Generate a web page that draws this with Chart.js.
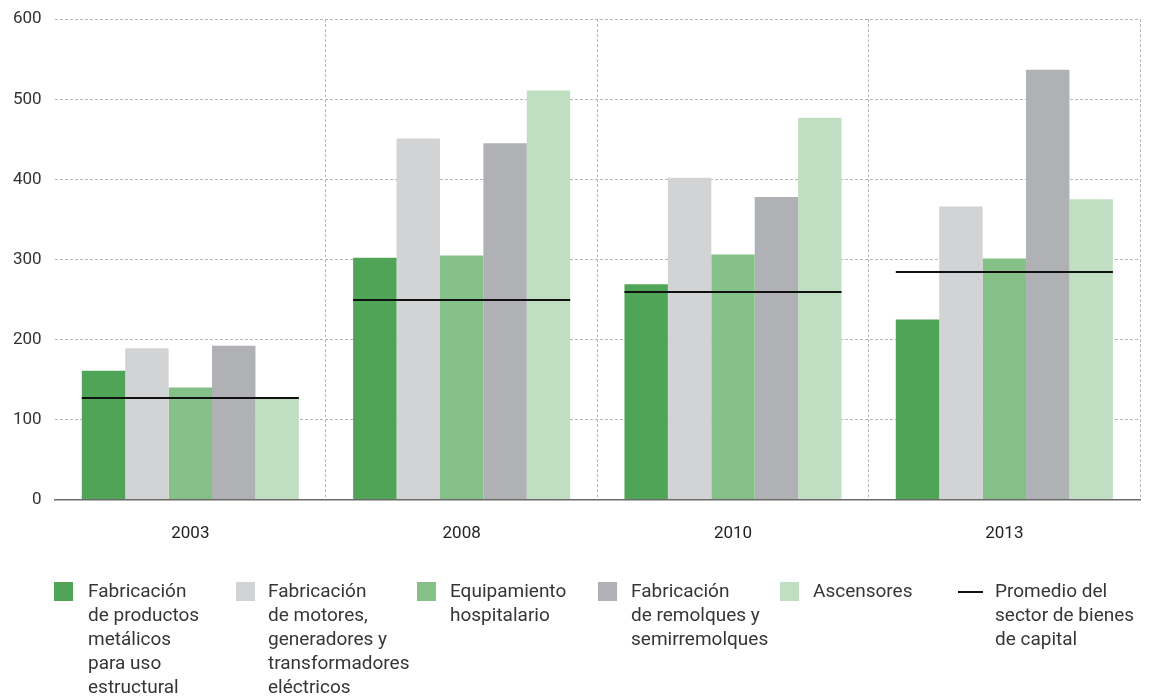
<!DOCTYPE html>
<html lang="es">
<head>
<meta charset="utf-8">
<title>Sector de bienes de capital</title>
<script src="https://cdn.jsdelivr.net/npm/chart.js@4/dist/chart.umd.min.js"></script>
<style>
  html, body { margin: 0; padding: 0; background: #fff; }
  #wrap { position: relative; width: 1151px; height: 697px; overflow: hidden; }
  #chartBox { position: absolute; left: 0; top: -4px; width: 1151px; height: 588px; }
  #legend { position: absolute; left: 0; top: 0; width: 1151px; height: 697px; pointer-events: none;
            font-family: Roboto, "Liberation Sans", sans-serif; font-size: 19px; line-height: 24px; color: #363636; }
  .item { position: absolute; top: 579px; }
  .sw { position: absolute; top: 3px; width: 19px; height: 19px; }
  .ln { position: absolute; top: 12px; width: 25px; height: 2px; background: #111; }
  .tx { position: absolute; top: 0; white-space: nowrap; }
</style>
</head>
<body>
<div id="wrap">
  <div id="chartBox"><canvas id="c"></canvas></div>
  <div id="legend"></div>
</div>
<script>
// Years shown on the category axis
const years = ['2003', '2008', '2010', '2013'];
const yTicks = [0, 100, 200, 300, 400, 500, 600];

// Series values per year
const productosMetalicos = [161, 302, 269, 225];
const motoresGeneradores = [189, 451, 402, 366];
const equipamientoHosp = [140, 305, 306, 301];
const remolques = [192, 445, 378, 537];
const ascensores = [126, 511, 477, 375];
const promedioSector = [127, 249, 259, 284];

// Legend text, one entry per line
const seriesLabels = [
  ['Fabricación', 'de productos', 'metálicos', 'para uso', 'estructural'],
  ['Fabricación', 'de motores,', 'generadores y', 'transformadores', 'eléctricos'],
  ['Equipamiento', 'hospitalario'],
  ['Fabricación', 'de remolques y', 'semirremolques'],
  ['Ascensores'],
  ['Promedio del', 'sector de bienes', 'de capital']
];

const colors = ['#50a457', '#d2d3d5', '#84c087', '#b0b1b4', '#c0dfc2'];
const seriesData = [productosMetalicos, motoresGeneradores, equipamientoHosp, remolques, ascensores];

const datasets = seriesData.map((d, i) => ({
  label: seriesLabels[i].join(' '),
  data: d,
  backgroundColor: colors[i],
  borderWidth: 0,
  categoryPercentage: 0.8,
  barPercentage: 1.0
}));

// Sector average: a black rule across each year's group of bars,
// positioned with the chart's own y scale and the drawn bar elements.
const averageRule = {
  id: 'averageRule',
  afterDraw(chart) {
    const first = chart.getDatasetMeta(0).data;
    const last = chart.getDatasetMeta(seriesData.length - 1).data;
    const y = chart.scales.y;
    const ctx = chart.ctx;
    ctx.save();
    ctx.strokeStyle = '#111';
    ctx.lineWidth = 2;
    promedioSector.forEach((v, i) => {
      const a = first[i], b = last[i];
      const x0 = a.x - a.width / 2;
      const x1 = b.x + b.width / 2;
      const py = Math.round(y.getPixelForValue(v));
      ctx.beginPath();
      ctx.moveTo(x0, py);
      ctx.lineTo(x1, py);
      ctx.stroke();
    });
    ctx.restore();
  }
};

const fontFamily = 'Roboto, "Liberation Sans", sans-serif';
const gridGrey = '#b6b6b6';

new Chart(document.getElementById('c'), {
  type: 'bar',
  data: { labels: years, datasets },
  plugins: [averageRule],
  options: {
    responsive: true,
    maintainAspectRatio: false,
    animation: false,
    events: [],
    layout: { padding: { top: 3, left: 0, right: 11, bottom: 16 } },
    plugins: { legend: { display: false }, tooltip: { enabled: false } },
    scales: {
      x: {
        offset: true,
        z: 1,
        grid: {
          offset: true,
          drawTicks: false,
          color: (ctx) => (ctx.index === 0 || ctx.index === years.length) ? 'rgba(0,0,0,0)' : gridGrey,
          lineWidth: 1
        },
        border: { display: true, color: '#6b6b6b', width: 1.5, dash: [3, 2] },
        ticks: { color: '#222', font: { family: fontFamily, size: 17 }, padding: 24 }
      },
      y: {
        min: 0,
        max: 600,
        z: 1,
        afterBuildTicks: (axis) => { axis.ticks = yTicks.map(v => ({ value: v })); },
        grid: {
          drawTicks: false,
          color: (ctx) => ctx.tick && ctx.tick.value === 0 ? 'rgba(0,0,0,0)' : gridGrey,
          lineWidth: 1
        },
        border: { display: false, dash: [3, 2] },
        ticks: { color: '#333', font: { family: fontFamily, size: 17 }, padding: 13 }
      }
    }
  }
});

// Legend built from the same labels and colours
const legend = document.getElementById('legend');
const positions = [[54, 88], [236, 268], [417, 450], [598, 631], [780, 813], [958, 995]];
seriesLabels.forEach((lines, i) => {
  const item = document.createElement('div');
  item.className = 'item';
  const mark = document.createElement('div');
  if (i < colors.length) {
    mark.className = 'sw';
    mark.style.background = colors[i];
  } else {
    mark.className = 'ln';
  }
  mark.style.left = positions[i][0] + 'px';
  const tx = document.createElement('div');
  tx.className = 'tx';
  tx.style.left = positions[i][1] + 'px';
  tx.innerHTML = lines.join('<br>');
  item.appendChild(mark);
  item.appendChild(tx);
  legend.appendChild(item);
});
</script>
</body>
</html>
